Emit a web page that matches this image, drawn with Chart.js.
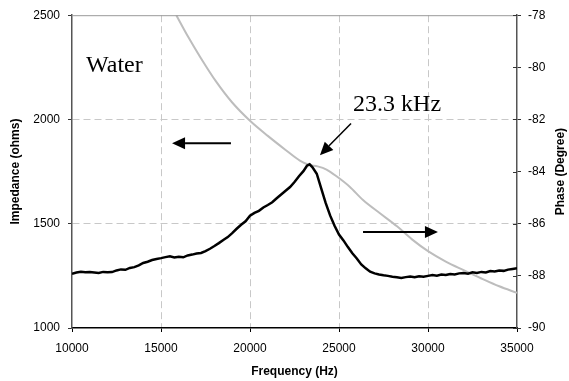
<!DOCTYPE html>
<html>
<head>
<meta charset="utf-8">
<script src="https://cdn.jsdelivr.net/npm/chart.js@4"></script>
<style>
  html, body { margin: 0; padding: 0; background: #fff; }
  #wrap { width: 569px; height: 381px; }
</style>
</head>
<body>
<div id="wrap"><canvas id="chart" width="569" height="381"></canvas></div>
<script>
// impedance sweep (black), every 250 Hz
const freqImp = [10000, 10250, 10500, 10750, 11000, 11250, 11500, 11750, 12000, 12250,
  12500, 12750, 13000, 13250, 13500, 13750, 14000, 14250, 14500, 14750,
  15000, 15250, 15500, 15750, 16000, 16250, 16500, 16750, 17000, 17250,
  17500, 17750, 18000, 18250, 18500, 18750, 19000, 19250, 19500, 19750,
  20000, 20250, 20500, 20750, 21000, 21250, 21500, 21750, 22000, 22250,
  22500, 22750, 23000, 23200, 23350, 23500, 23750, 24000, 24250, 24500,
  24750, 25000, 25250, 25500, 25750, 26000, 26250, 26500, 26750, 27000,
  27250, 27500, 27750, 28000, 28250, 28500, 28750, 29000, 29250, 29500,
  29750, 30000, 30250, 30500, 30750, 31000, 31250, 31500, 31750, 32000,
  32250, 32500, 32750, 33000, 33250, 33500, 33750, 34000, 34250, 34500, 34750, 35000];
const impedance = [1260, 1266, 1270, 1267, 1268, 1266, 1264, 1269, 1267, 1268,
  1276, 1281, 1279, 1288, 1292, 1300, 1312, 1318, 1326, 1331,
  1335, 1340, 1344, 1338, 1342, 1339, 1348, 1352, 1357, 1360,
  1369, 1380, 1393, 1407, 1422, 1436, 1455, 1476, 1495, 1512,
  1538, 1552, 1562, 1578, 1590, 1603, 1622, 1640, 1658, 1676,
  1700, 1728, 1752, 1778, 1785, 1772, 1740, 1670, 1600, 1540,
  1490, 1448, 1420, 1388, 1358, 1333, 1305, 1286, 1270, 1262,
  1257, 1253, 1250, 1246, 1243, 1240, 1244, 1247, 1243, 1248,
  1246, 1250, 1254, 1251, 1256, 1254, 1259, 1257, 1262, 1264,
  1260, 1267, 1264, 1269, 1266, 1273, 1271, 1276, 1274, 1280, 1283, 1286];

// phase (grey)
const freqPhase = [15860, 16500, 17200, 18100, 19000, 20000, 21000, 22000, 22800, 23300,
  23800, 24300, 24900, 25600, 26350, 27300, 28260, 29100, 30000, 31000, 32000, 33000, 34000, 35000];
const phase = [-78.0, -78.8, -79.6, -80.55, -81.35, -82.05, -82.63, -83.17, -83.58, -83.74,
  -83.8, -83.92, -84.2, -84.58, -85.09, -85.6, -86.1, -86.6, -87.05, -87.45, -87.78, -88.1, -88.4, -88.65];

const xTicks = [10000, 15000, 20000, 25000, 30000, 35000];
const impTicks = [1000, 1500, 2000, 2500];
const phaseTicks = [-90, -88, -86, -84, -82, -80, -78];

Chart.defaults.font.family = '"Liberation Sans", Arial, sans-serif';
Chart.defaults.font.size = 12;
Chart.defaults.color = "#000";

const gridCol = "#c8c8c8";

function drawArrow(ctx, x1, y1, x2, y2) {
  const ang = Math.atan2(y2 - y1, x2 - x1);
  const hl = 13, hw = 6;
  const bx = x2 - hl * Math.cos(ang), by = y2 - hl * Math.sin(ang);
  ctx.beginPath();
  ctx.moveTo(x1, y1);
  ctx.lineTo(bx, by);
  ctx.stroke();
  ctx.beginPath();
  ctx.moveTo(x2, y2);
  ctx.lineTo(bx + hw * Math.sin(ang), by - hw * Math.cos(ang));
  ctx.lineTo(bx - hw * Math.sin(ang), by + hw * Math.cos(ang));
  ctx.closePath();
  ctx.fill();
}

const extras = {
  id: "extras",
  afterDraw(chart) {
    const { ctx, chartArea: a } = chart;
    const x = chart.scales.x, y = chart.scales.y, y2 = chart.scales.y2;
    ctx.save();
    // top frame
    ctx.strokeStyle = "#999";
    ctx.lineWidth = 1;
    ctx.beginPath();
    ctx.moveTo(a.left, a.top + 0.5);
    ctx.lineTo(a.right, a.top + 0.5);
    ctx.stroke();
    // right axis ticks cross the axis
    ctx.strokeStyle = "#333";
    ctx.beginPath();
    phaseTicks.forEach(v => {
      const py = Math.round(y2.getPixelForValue(v)) + 0.5;
      ctx.moveTo(a.right - 4, py);
      ctx.lineTo(a.right, py);
    });
    ctx.stroke();

    // arrows
    ctx.strokeStyle = "#000";
    ctx.fillStyle = "#000";
    ctx.lineWidth = 2;
    drawArrow(ctx, x.getPixelForValue(18930), y.getPixelForValue(1886), x.getPixelForValue(15620), y.getPixelForValue(1886));
    drawArrow(ctx, x.getPixelForValue(26350), y.getPixelForValue(1460), x.getPixelForValue(30560), y.getPixelForValue(1460));
    ctx.lineWidth = 1.5;
    drawArrow(ctx, x.getPixelForValue(25675), y.getPixelForValue(1981), x.getPixelForValue(23930), y.getPixelForValue(1829));

    // labels
    ctx.font = '24px "Liberation Serif", "Times New Roman", serif';
    ctx.textAlign = "left";
    ctx.textBaseline = "alphabetic";
    ctx.fillText("Water", x.getPixelForValue(10790), y.getPixelForValue(2226));
    ctx.fillText("23.3 kHz", x.getPixelForValue(25790), y.getPixelForValue(2040));

    // right axis title, reads bottom to top
    ctx.font = 'bold 12px "Liberation Sans", Arial, sans-serif';
    ctx.textAlign = "center";
    ctx.textBaseline = "middle";
    ctx.translate(561, (a.top + a.bottom) / 2);
    ctx.rotate(-Math.PI / 2);
    ctx.fillText("Phase (Degree)", 0, 0);
    ctx.restore();
  }
};

new Chart(document.getElementById("chart"), {
  type: "scatter",
  data: {
    datasets: [
      {
        label: "Phase",
        data: freqPhase.map((f, i) => ({ x: f, y: phase[i] })),
        yAxisID: "y2",
        showLine: true,
        borderColor: "#bdbdbd",
        borderWidth: 2,
        pointRadius: 0,
        cubicInterpolationMode: "monotone",
        order: 2
      },
      {
        label: "Impedance",
        data: freqImp.map((f, i) => ({ x: f, y: impedance[i] })),
        yAxisID: "y",
        showLine: true,
        borderColor: "#000",
        borderWidth: 2.5,
        pointRadius: 0,
        tension: 0,
        order: 1
      }
    ]
  },
  options: {
    responsive: false,
    animation: false,
    layout: { padding: { top: 15, left: 0, right: 0, bottom: 0 } },
    plugins: { legend: { display: false }, tooltip: { enabled: false } },
    scales: {
      x: {
        type: "linear",
        min: 10000,
        max: 35000,
        afterBuildTicks: s => { s.ticks = xTicks.map(v => ({ value: v })); },
        afterFit: s => { s.height = 53; },
        ticks: { padding: 9, maxRotation: 0, autoSkip: false, callback: v => String(v) },
        grid: {
          color: c => (c.tick && (c.tick.value === 10000 || c.tick.value === 35000)) ? "rgba(0,0,0,0)" : gridCol,
          tickColor: "#000",
          tickLength: 4,
          lineWidth: 1
        },
        border: { color: "#000", width: 1.5, dash: [7, 4] },
        title: { display: true, text: "Frequency (Hz)", font: { weight: "bold", size: 12 }, padding: { top: 0, bottom: 2 } }
      },
      y: {
        position: "left",
        min: 1000,
        max: 2500,
        afterBuildTicks: s => { s.ticks = impTicks.map(v => ({ value: v })); },
        afterFit: s => { s.width = 72; },
        ticks: { padding: 8, callback: v => String(v) },
        grid: {
          color: c => (c.tick && (c.tick.value === 1000 || c.tick.value === 2500)) ? "rgba(0,0,0,0)" : gridCol,
          tickColor: "#333",
          tickLength: 4,
          lineWidth: 1
        },
        border: { color: "#555", width: 1.5, dash: [7, 4] },
        title: { display: true, text: "Impedance (ohms)", font: { weight: "bold", size: 12 }, padding: { top: 8, bottom: 0 } }
      },
      y2: {
        position: "right",
        min: -90,
        max: -78,
        afterBuildTicks: s => { s.ticks = phaseTicks.map(v => ({ value: v })); },
        afterFit: s => { s.width = 52; },
        ticks: { padding: 7, callback: v => String(v) },
        grid: { drawOnChartArea: false, tickColor: "#333", tickLength: 4 },
        border: { color: "#555", width: 1.5 }
      }
    }
  },
  plugins: [extras]
});
</script>
</body>
</html>
